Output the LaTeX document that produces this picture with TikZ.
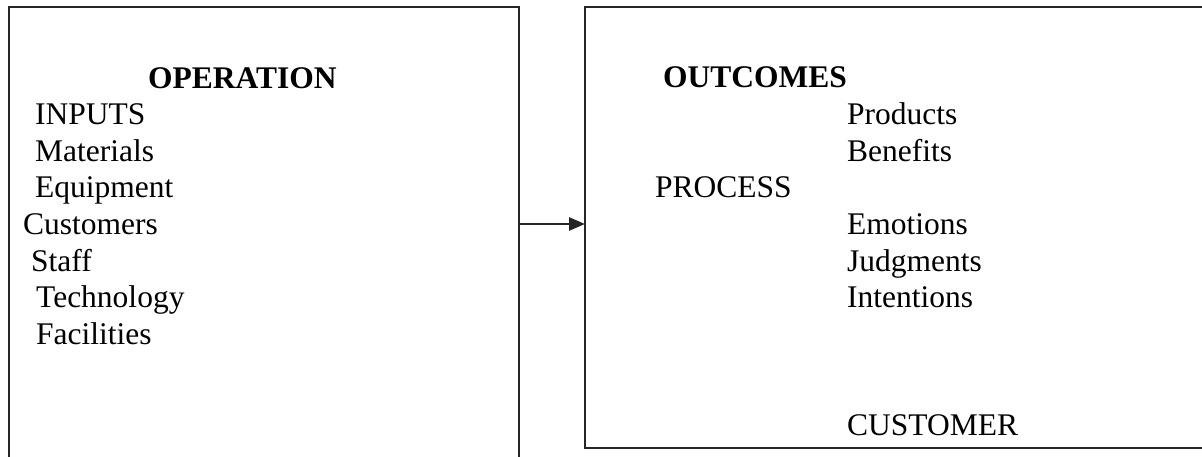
\documentclass[tikz,border=0pt]{standalone}
\usepackage{fontspec}
\setmainfont{Liberation Serif}
\usetikzlibrary{arrows.meta}
\begin{document}
\begin{tikzpicture}[x=1pt,y=-1pt,
  txt/.style={anchor=base west,inner sep=0pt,font=\fontsize{31.5}{36}\selectfont},
  head/.style={txt,font=\fontsize{31.5}{36}\selectfont\bfseries},
  frame/.style={line width=2.8pt,draw=black!85},
  conn/.style={line width=2.8pt,draw=black!85,-{Triangle[length=16pt,width=13pt]}}]
\useasboundingbox (0,0) rectangle (1202,457);
% boxes
\draw[frame] (9,460) -- (9,7) -- (519,7) -- (519,460);
\draw[frame] (1205,7) -- (585,7) -- (585,448) -- (1205,448);
\coordinate (a) at (519,224);
\coordinate (b) at (585,224);
\draw[conn] (a) -- (b);
% left texts
\node[head] (op) at (148,89) {OPERATION};
\node[txt] (in) at (35,125) {INPUTS};
\node[txt] (ma) at (35,161.5) {Materials};
\node[txt] (eq) at (35,198) {Equipment};
\node[txt] (cu) at (23,234.5) {Customers};
\node[txt] (st) at (31,271) {Staff};
\node[txt] (te) at (36,307.5) {Technology};
\node[txt] (fa) at (36,344) {Facilities};
% right texts
\node[head] (oc) at (663,88) {OUTCOMES};
\node[txt] (pr) at (847,125) {Products};
\node[txt] (be) at (847,161.5) {Benefits};
\node[txt] (ps) at (655,198) {PROCESS};
\node[txt] (em) at (847,234.5) {Emotions};
\node[txt] (ju) at (847,271) {Judgments};
\node[txt] (it) at (847,307.5) {Intentions};
\node[txt] (cs) at (847,435) {CUSTOMER};
\end{tikzpicture}
\end{document}
